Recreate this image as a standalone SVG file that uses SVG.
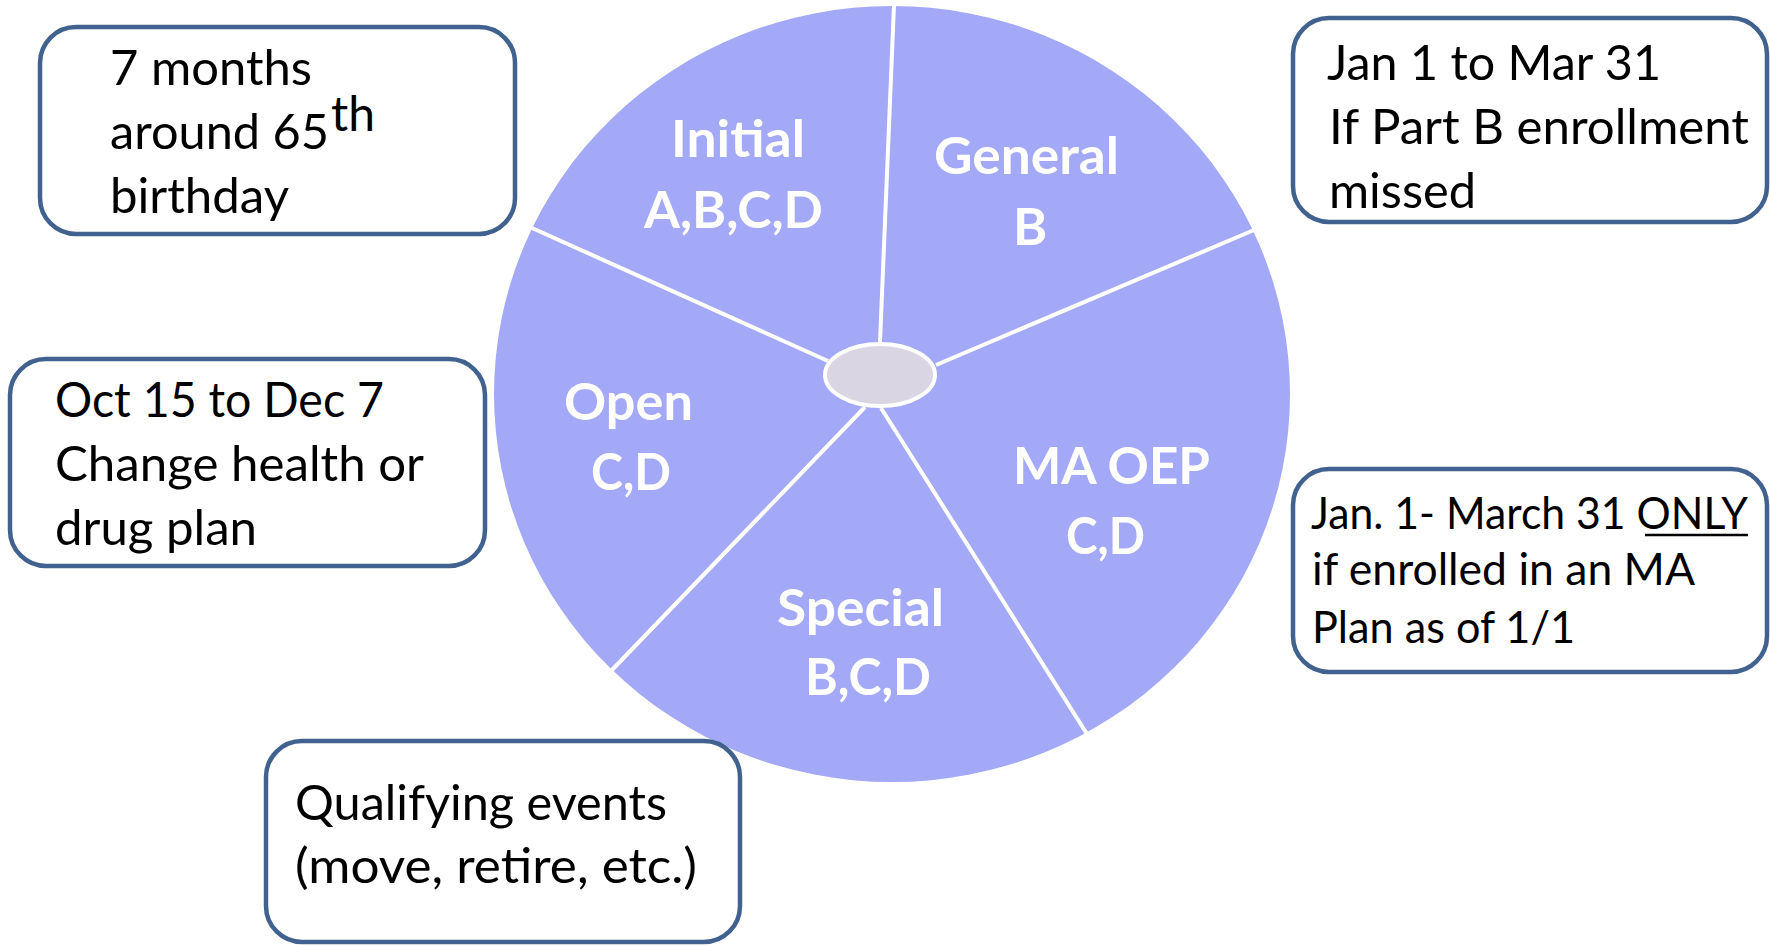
<svg xmlns="http://www.w3.org/2000/svg" width="1770" height="946" viewBox="0 0 1770 946">
<style>
.box{fill:#ffffff;stroke:#41618e;stroke-width:4.5}
.t{font-family:Lato,"Open Sans","Liberation Sans",sans-serif;font-size:48px;fill:#000000}
.t4{font-family:Lato,"Open Sans","Liberation Sans",sans-serif;font-size:43.5px;fill:#000000}
.lbl{font-family:Lato,"Open Sans","Liberation Sans",sans-serif;font-size:52px;font-weight:bold;fill:#ffffff;text-anchor:middle}
.div{stroke:#ffffff;stroke-width:4;fill:none}
</style>
<rect width="1770" height="946" fill="#ffffff"/>
<g id="pie">
<ellipse cx="892" cy="394" rx="398" ry="388" fill="#a3a8f7"/>
</g>
<g id="connectors">
<line class="div" x1="894" y1="5" x2="880" y2="342"/>
<line class="div" x1="532" y1="228" x2="828" y2="361"/>
<line class="div" x1="1254" y1="230" x2="936" y2="365"/>
<line class="div" x1="612" y1="670" x2="865" y2="407"/>
<line class="div" x1="1087" y1="734" x2="881" y2="408"/>
</g>
<g id="hub">
<ellipse cx="880" cy="375" rx="55" ry="31" fill="#dad5e2" stroke="#ffffff" stroke-width="4"/>
</g>
<g id="seg-initial">
<text class="lbl" x="738" y="157" textLength="134" lengthAdjust="spacingAndGlyphs">Initial</text>
<text class="lbl" x="733.5" y="228" textLength="179" lengthAdjust="spacingAndGlyphs">A,B,C,D</text>
</g>
<g id="seg-general">
<text class="lbl" x="1026.5" y="174" textLength="185" lengthAdjust="spacingAndGlyphs">General</text>
<text class="lbl" x="1030" y="245">B</text>
</g>
<g id="seg-open">
<text class="lbl" x="628.5" y="420" textLength="129" lengthAdjust="spacingAndGlyphs">Open</text>
<text class="lbl" x="631" y="490" textLength="80" lengthAdjust="spacingAndGlyphs">C,D</text>
</g>
<g id="seg-maoep">
<text class="lbl" x="1111.5" y="484" textLength="197" lengthAdjust="spacingAndGlyphs">MA OEP</text>
<text class="lbl" x="1105.5" y="554" textLength="79" lengthAdjust="spacingAndGlyphs">C,D</text>
</g>
<g id="seg-special">
<text class="lbl" x="860.5" y="626" textLength="167" lengthAdjust="spacingAndGlyphs">Special</text>
<text class="lbl" x="868" y="695" textLength="126" lengthAdjust="spacingAndGlyphs">B,C,D</text>
</g>
<g id="box-initial">
<rect class="box" x="40" y="27" width="475" height="207" rx="36"/>
<text class="t" x="110" y="85" textLength="202" lengthAdjust="spacingAndGlyphs">7 months</text>
<text class="t" x="110" y="149" textLength="219" lengthAdjust="spacingAndGlyphs">around 65</text>
<text class="t" x="331" y="131" font-size="26">th</text>
<text class="t" x="110" y="213" textLength="179" lengthAdjust="spacingAndGlyphs">birthday</text>
</g>
<g id="box-open">
<rect class="box" x="10" y="359" width="475" height="207" rx="36"/>
<text class="t" x="55" y="417" textLength="329" lengthAdjust="spacingAndGlyphs">Oct 15 to Dec 7</text>
<text class="t" x="55" y="481" textLength="369" lengthAdjust="spacingAndGlyphs">Change health or</text>
<text class="t" x="55" y="545" textLength="202" lengthAdjust="spacingAndGlyphs">drug plan</text>
</g>
<g id="box-general">
<rect class="box" x="1293" y="18" width="474" height="204" rx="36"/>
<text class="t" x="1327" y="80" textLength="334" lengthAdjust="spacingAndGlyphs">Jan 1 to Mar 31</text>
<text class="t" x="1329" y="144" textLength="420" lengthAdjust="spacingAndGlyphs">If Part B enrollment</text>
<text class="t" x="1329" y="208" textLength="147" lengthAdjust="spacingAndGlyphs">missed</text>
</g>
<g id="box-maoep">
<rect class="box" x="1293" y="469" width="474" height="203" rx="36"/>
<text class="t4" x="1311" y="529" textLength="437" lengthAdjust="spacingAndGlyphs">Jan. 1- March 31 ONLY</text>
<line x1="1645" y1="535" x2="1748" y2="535" stroke="#000000" stroke-width="2.5"/>
<text class="t4" x="1312" y="585" textLength="383" lengthAdjust="spacingAndGlyphs">if enrolled in an MA</text>
<text class="t4" x="1312" y="643" textLength="263" lengthAdjust="spacingAndGlyphs">Plan as of 1/1</text>
</g>
<g id="box-special">
<rect class="box" x="266" y="741" width="474" height="201" rx="36"/>
<text class="t" x="295" y="820" textLength="372" lengthAdjust="spacingAndGlyphs">Qualifying events</text>
<text class="t" x="295" y="883" textLength="402" lengthAdjust="spacingAndGlyphs">(move, retire, etc.)</text>
</g>
</svg>
